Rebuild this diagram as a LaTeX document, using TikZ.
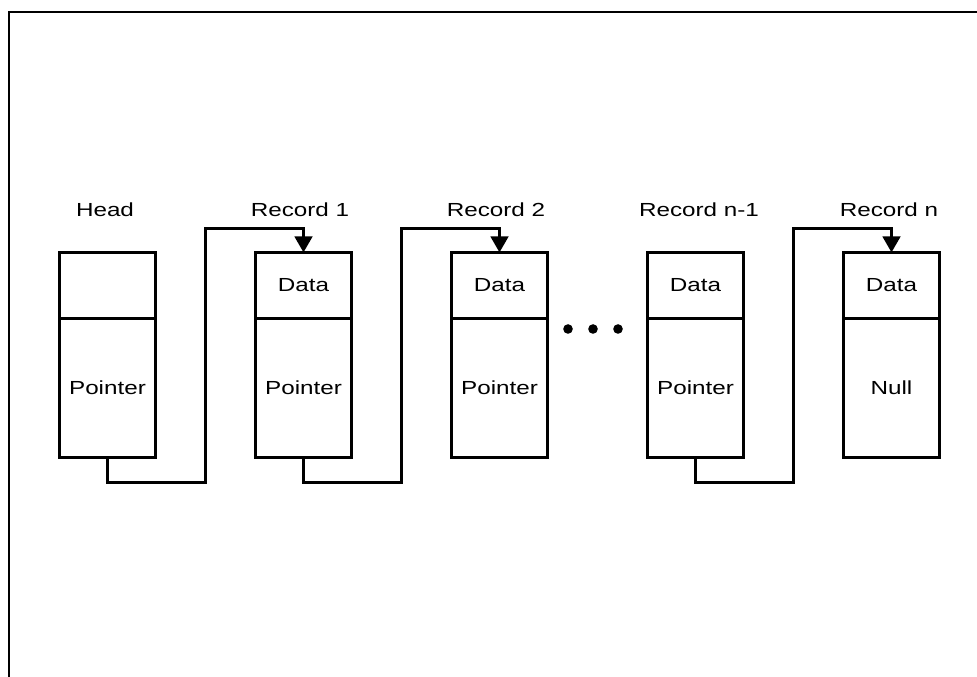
\documentclass[tikz,border=0pt]{standalone}
\usepackage{fontspec}
\setmainfont{Liberation Sans}[FakeStretch=1.28]
\usetikzlibrary{arrows.meta,positioning}
\tikzset{
	cell/.style={draw, line width=2.6pt, minimum width=72pt, inner sep=0pt, outer sep=0pt, font=\fontsize{14.2}{16}\selectfont},
	datacell/.style={cell, minimum height=49.5pt},
	ptrcell/.style={cell, minimum height=104.25pt},
	title/.style={anchor=base, inner sep=0pt, font=\fontsize{14.2}{16}\selectfont},
	link/.style={line width=2.5pt, -{Triangle[length=12pt,width=13pt]}}
}

\begin{document}
\begin{tikzpicture}[x=0.75pt, y=0.75pt]
		%%%%% START %%%%%
		\useasboundingbox (0, 0) rectangle (977, 677);
		\draw[line width=1.6pt] (9, 0) -- (9, 665) -- (977, 665);
		
		\node[datacell] (hdata) at (107.5, 391.5) {};
		\node[ptrcell, below=0pt of hdata] (hptr) {Pointer};
		\node[title] (hlabel) at (105, 460) {Head};
		
		\node[datacell] (r1data) at (303.5, 391.5) {Data};
		\node[ptrcell, below=0pt of r1data] (r1ptr) {Pointer};
		\node[title] (r1label) at (300, 460) {Record 1};
		
		\node[datacell] (r2data) at (499.5, 391.5) {Data};
		\node[ptrcell, below=0pt of r2data] (r2ptr) {Pointer};
		\node[title] (r2label) at (496, 460) {Record 2};
		
		\fill (568, 348) circle (3.6pt);
		\fill (593, 348) circle (3.6pt);
		\fill (618, 348) circle (3.6pt);
		
		\node[datacell] (rmdata) at (695.5, 391.5) {Data};
		\node[ptrcell, below=0pt of rmdata] (rmptr) {Pointer};
		\node[title] (rmlabel) at (699, 460) {Record n-1};
		
		\node[datacell] (rndata) at (891.5, 391.5) {Data};
		\node[ptrcell, below=0pt of rndata] (rnptr) {Null};
		\node[title] (rnlabel) at (889, 460) {Record n};
		
		\draw[link] (hptr.south) -- ++(0, -25) -| ++(98, 254) -| (r1data.north);
		\draw[link] (r1ptr.south) -- ++(0, -25) -| ++(98, 254) -| (r2data.north);
		\draw[link] (rmptr.south) -- ++(0, -25) -| ++(98, 254) -| (rndata.north);
		%%%%% END %%%%%
\end{tikzpicture}
\end{document}
